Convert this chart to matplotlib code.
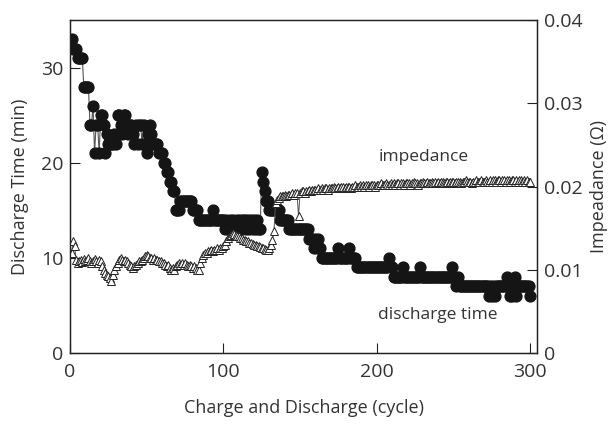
import numpy as np
import matplotlib
matplotlib.use("Agg")
import matplotlib.pyplot as plt

plt.rcParams['font.family'] = ['Open Sans', 'DejaVu Sans']

# cycle numbers 1..300
cycles = np.arange(1, 301)

# discharge time (min), one value per cycle
discharge_time = [
    33, 32, 32, 32, 31, 31, 31, 31, 28, 28,
    28, 28, 24, 24, 26, 21, 24, 24, 21, 25,
    25, 24, 21, 23, 22, 22, 22, 22, 23, 22,
    25, 25, 24, 23, 25, 25, 24, 23, 24, 24,
    23, 22, 24, 22, 24, 24, 22, 24, 22, 21,
    23, 24, 23, 22, 22, 22, 22, 21, 21, 21,
    20, 20, 19, 19, 18, 18, 17, 17, 15, 15,
    15, 16, 16, 16, 16, 16, 16, 16, 16, 15,
    15, 15, 15, 14, 14, 14, 14, 14, 14, 14,
    14, 14, 15, 14, 14, 14, 14, 14, 14, 14,
    13, 14, 13, 14, 13, 14, 13, 13, 14, 13,
    14, 13, 14, 14, 13, 14, 13, 14, 13, 14,
    13, 14, 13, 13, 19, 18, 17, 16, 16, 15,
    15, 15, 15, 15, 15, 15, 14, 14, 14, 14,
    14, 14, 13, 13, 13, 13, 13, 13, 13, 13,
    13, 13, 13, 13, 13, 12, 12, 12, 11, 12,
    11, 12, 11, 10, 10, 10, 10, 10, 10, 10,
    10, 10, 10, 10, 11, 10, 10, 10, 10, 10,
    10, 11, 10, 10, 10, 10, 9, 9, 9, 9,
    9, 9, 9, 9, 9, 9, 9, 9, 9, 9,
    9, 9, 9, 9, 9, 9, 9, 10, 9, 9,
    8, 8, 8, 8, 8, 8, 9, 8, 8, 8,
    8, 8, 8, 8, 8, 8, 8, 9, 8, 8,
    8, 8, 8, 8, 8, 8, 8, 8, 8, 8,
    8, 8, 8, 8, 8, 8, 8, 8, 9, 8,
    8, 7, 8, 7, 7, 7, 7, 7, 7, 7,
    7, 7, 7, 7, 7, 7, 7, 7, 7, 7,
    7, 7, 6, 7, 6, 7, 6, 7, 7, 7,
    7, 7, 7, 7, 8, 7, 6, 6, 7, 8,
    6, 7, 7, 7, 7, 7, 7, 7, 7, 6,
]

# impedance (ohm), one value per cycle
impedance = [
    0.0120, 0.0134, 0.0128, 0.0112, 0.0108, 0.0110, 0.0112, 0.0109, 0.0113, 0.0110,
    0.0112, 0.0114, 0.0110, 0.0108, 0.0111, 0.0113, 0.0110, 0.0108, 0.0112, 0.0110,
    0.0104, 0.0100, 0.0096, 0.0094, 0.0092, 0.0090, 0.0086, 0.0094, 0.0100, 0.0104,
    0.0108, 0.0112, 0.0114, 0.0112, 0.0110, 0.0112, 0.0110, 0.0108, 0.0106, 0.0104,
    0.0102, 0.0104, 0.0106, 0.0108, 0.0110, 0.0110, 0.0112, 0.0114, 0.0116, 0.0118,
    0.0116, 0.0114, 0.0114, 0.0112, 0.0114, 0.0112, 0.0112, 0.0110, 0.0110, 0.0108,
    0.0108, 0.0106, 0.0104, 0.0106, 0.0102, 0.0100, 0.0102, 0.0100, 0.0104, 0.0106,
    0.0108, 0.0106, 0.0108, 0.0106, 0.0108, 0.0106, 0.0104, 0.0106, 0.0104, 0.0102,
    0.0104, 0.0102, 0.0100, 0.0100, 0.0108, 0.0114, 0.0118, 0.0120, 0.0120, 0.0122,
    0.0122, 0.0124, 0.0122, 0.0124, 0.0124, 0.0126, 0.0124, 0.0126, 0.0126, 0.0128,
    0.0130, 0.0134, 0.0138, 0.0140, 0.0142, 0.0144, 0.0143, 0.0142, 0.0140, 0.0140,
    0.0138, 0.0138, 0.0136, 0.0136, 0.0134, 0.0134, 0.0132, 0.0132, 0.0131, 0.0130,
    0.0130, 0.0128, 0.0128, 0.0127, 0.0126, 0.0126, 0.0125, 0.0124, 0.0124, 0.0126,
    0.0130, 0.0136, 0.0146, 0.0180, 0.0184, 0.0186, 0.0188, 0.0188, 0.0188, 0.0190,
    0.0188, 0.0190, 0.0190, 0.0190, 0.0192, 0.0190, 0.0192, 0.0192, 0.0164, 0.0192,
    0.0194, 0.0194, 0.0192, 0.0194, 0.0194, 0.0196, 0.0194, 0.0196, 0.0196, 0.0196,
    0.0196, 0.0198, 0.0196, 0.0198, 0.0196, 0.0198, 0.0198, 0.0196, 0.0198, 0.0198,
    0.0198, 0.0200, 0.0198, 0.0198, 0.0200, 0.0198, 0.0200, 0.0200, 0.0198, 0.0200,
    0.0200, 0.0200, 0.0198, 0.0200, 0.0200, 0.0202, 0.0200, 0.0200, 0.0202, 0.0200,
    0.0202, 0.0200, 0.0202, 0.0202, 0.0200, 0.0202, 0.0202, 0.0202, 0.0200, 0.0202,
    0.0202, 0.0202, 0.0204, 0.0202, 0.0202, 0.0204, 0.0202, 0.0202, 0.0204, 0.0202,
    0.0204, 0.0202, 0.0204, 0.0204, 0.0202, 0.0204, 0.0204, 0.0202, 0.0204, 0.0204,
    0.0204, 0.0202, 0.0204, 0.0206, 0.0204, 0.0204, 0.0202, 0.0204, 0.0204, 0.0206,
    0.0204, 0.0204, 0.0206, 0.0204, 0.0204, 0.0206, 0.0204, 0.0206, 0.0204, 0.0206,
    0.0204, 0.0206, 0.0206, 0.0204, 0.0206, 0.0206, 0.0204, 0.0206, 0.0206, 0.0206,
    0.0204, 0.0206, 0.0206, 0.0206, 0.0204, 0.0206, 0.0206, 0.0208, 0.0206, 0.0206,
    0.0206, 0.0204, 0.0206, 0.0206, 0.0208, 0.0206, 0.0206, 0.0208, 0.0206, 0.0206,
    0.0208, 0.0206, 0.0206, 0.0208, 0.0206, 0.0208, 0.0208, 0.0206, 0.0208, 0.0208,
    0.0206, 0.0208, 0.0208, 0.0206, 0.0208, 0.0208, 0.0206, 0.0208, 0.0208, 0.0206,
    0.0208, 0.0206, 0.0208, 0.0208, 0.0206, 0.0208, 0.0206, 0.0208, 0.0206, 0.0206,
]

left_ticks = [0, 10, 20, 30]
right_ticks = [0, 0.01, 0.02, 0.03, 0.04]
right_labels = ["0", "0.01", "0.02", "0.03", "0.04"]
x_ticks = [0, 100, 200, 300]

text_color = "#333333"

fig = plt.figure(figsize=(6.1, 4.26), dpi=100)
ax = fig.add_axes([0.1148, 0.1714, 0.7655, 0.7816])
ax2 = ax.twinx()

ax.plot(cycles, discharge_time, color="#555555", lw=0.8,
        marker="o", ms=7.8, mfc="#151515", mec="#151515", zorder=3)
ax2.plot(cycles, impedance, color="#555555", lw=0.7,
         marker="^", ms=6.3, mfc="white", mec="#222222", mew=0.7)

ax.set_xlim(0, 304.5)
ax.set_ylim(0, 35)
ax2.set_ylim(0, 0.04)

ax.set_xticks(x_ticks)
ax.set_yticks(left_ticks)
ax2.set_yticks(right_ticks)
ax2.set_yticklabels(right_labels)

ax.tick_params(axis="both", direction="in", length=7.5, width=0.8,
               labelsize=14, colors="#222222", labelcolor=text_color, pad=5)
ax.tick_params(axis="x", pad=7)
ax2.tick_params(axis="y", direction="in", length=7.5, width=0.8,
                labelsize=14, colors="#222222", labelcolor=text_color, pad=5)

for a in (ax, ax2):
    for s in a.spines.values():
        s.set_linewidth(0.9)
        s.set_color("#222222")

ax.set_xlabel("Charge and Discharge (cycle)", fontsize=13, color=text_color, labelpad=13)
ax.set_ylabel("Discharge Time (min)", fontsize=13, color=text_color, labelpad=8)
ax2.set_ylabel("Impeadance (\u03a9)", fontsize=13, color=text_color, labelpad=5)

ax.text(0.66, 0.59, "impedance", transform=ax.transAxes, fontsize=12.5,
        color=text_color, va="center", ha="left")
ax.text(0.66, 0.115, "discharge time", transform=ax.transAxes, fontsize=12.5,
        color=text_color, va="center", ha="left")

fig.savefig("out.png", dpi=100)
